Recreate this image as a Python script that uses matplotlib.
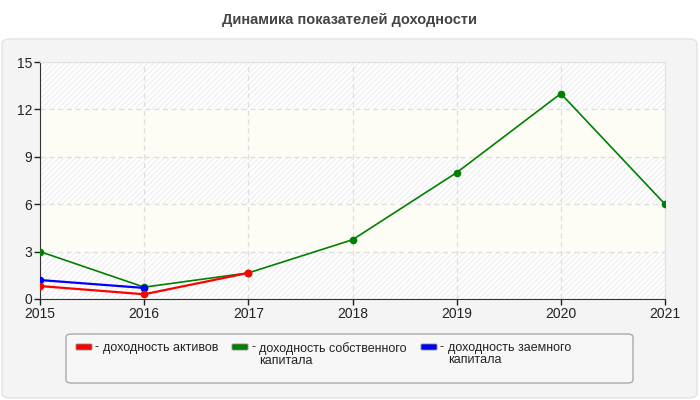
import matplotlib.pyplot as plt
from matplotlib.patches import FancyBboxPatch, Rectangle

plt.rcParams['font.family'] = ['Liberation Sans', 'DejaVu Sans']

years = [2015, 2016, 2017, 2018, 2019, 2020, 2021]
roa_years = [2015, 2016, 2017]
roa = [0.82, 0.3, 1.65]
roe = [3.0, 0.75, 1.65, 3.75, 8.0, 13.0, 6.0]
rod_years = [2015, 2016]
rod = [1.2, 0.7]

labels = ['доходность активов',
          'доходность собственного\nкапитала',
          'доходность заемного\nкапитала']
colors = ['#ff0000', '#008000', '#0000ff']
yticks = [0, 3, 6, 9, 12, 15]

W, H = 700, 400
fig = plt.figure(figsize=(7, 4), dpi=100)
fig.patch.set_facecolor('white')

# grey rounded panel behind chart
panel = FancyBboxPatch((2 / W, 2 / H), 695 / W, 359 / H,
                       boxstyle='round,pad=0,rounding_size=0.012',
                       transform=fig.transFigure, facecolor='#f4f4f4',
                       edgecolor='#e2e2e2', linewidth=1, zorder=-10)
fig.add_artist(panel)

fig.text(0.5, 1 - 20 / H, 'Динамика показателей доходности', ha='center', va='center',
         fontsize=10.5, fontweight='bold', color='#444444')

ax = fig.add_axes([40 / W, 101 / H, 625 / W, 237 / H])
ax.set_zorder(1)
ax.set_facecolor('white')

# alternating bands
for i in range(len(yticks) - 1):
    if i % 2 == 0:
        ax.add_patch(Rectangle((2015, yticks[i]), 6, 3, facecolor='white',
                               hatch='//////', edgecolor='#f0f0f0', linewidth=0, zorder=0))
    else:
        ax.add_patch(Rectangle((2015, yticks[i]), 6, 3, facecolor='#fdfdf5',
                               edgecolor='none', zorder=0))

ax.plot(years, roe, color=colors[1], marker='o', markersize=4.5, linewidth=1.2, zorder=3)
ax.plot(rod_years, rod, color=colors[2], marker='o', markersize=4.5, linewidth=1.6, zorder=4)
ax.plot(roa_years, roa, color=colors[0], marker='o', markersize=4.5, linewidth=1.6, zorder=5)

ax.set_xlim(2015, 2021)
ax.set_ylim(0, 15)
ax.set_xticks(years)
ax.set_yticks(yticks)
ax.tick_params(labelsize=10, colors='#222222', length=4, width=1, pad=1.5)
ax.grid(True, linestyle=(0, (4, 3)), color='#dddddd', linewidth=0.9, zorder=1)
ax.set_axisbelow(True)
for s in ['left', 'bottom']:
    ax.spines[s].set_color('#333333')
for s in ['top', 'right']:
    ax.spines[s].set_color('#e0e0e0')

# legend box
lbox = FancyBboxPatch((66 / W, 1 - 383 / H), 567 / W, 49 / H,
                      boxstyle='round,pad=0,rounding_size=0.008',
                      transform=fig.transFigure, facecolor='#f7f7f7',
                      edgecolor='#aaaaaa', linewidth=1, zorder=2)
fig.add_artist(lbox)

handle_x = [76, 232, 421]
for hx, lab, c in zip(handle_x, labels, colors):
    fig.add_artist(FancyBboxPatch((hx / W, 1 - 350 / H), 16 / W, 6 / H,
                                  boxstyle='round,pad=0,rounding_size=0.002',
                                  transform=fig.transFigure, facecolor=c,
                                  edgecolor='#888888', linewidth=0.6, zorder=3))
    fig.text((hx + 19) / W, 1 - 347 / H, '-', ha='left', va='center',
             fontsize=9, color='#222222', zorder=3)
    fig.text((hx + 27) / W, 1 - 342 / H, lab, ha='left', va='top',
             fontsize=9, color='#222222', linespacing=1.0, zorder=3)

fig.savefig('out.png', dpi=100)
